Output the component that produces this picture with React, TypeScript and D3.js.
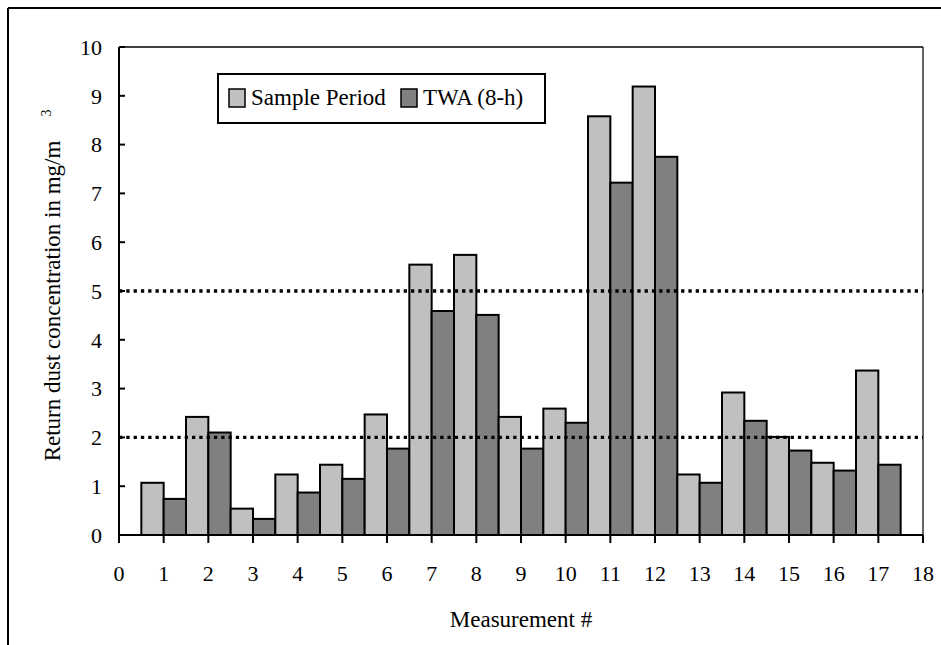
import React from "react";
import * as d3 from "d3";

const measurements = [1, 2, 3, 4, 5, 6, 7, 8, 9, 10, 11, 12, 13, 14, 15, 16, 17];
const samplePeriod = [1.07, 2.42, 0.54, 1.24, 1.44, 2.47, 5.54, 5.74, 2.42, 2.59, 8.58, 9.19, 1.24, 2.92, 2.01, 1.48, 3.37];
const twa8h = [0.74, 2.1, 0.33, 0.87, 1.15, 1.77, 4.59, 4.51, 1.77, 2.3, 7.22, 7.75, 1.07, 2.34, 1.73, 1.32, 1.44];
const xTicks = d3.range(0, 19);
const yTicks = d3.range(0, 11);
const limits = [5, 2];
const seriesNames = ["Sample Period", "TWA (8-h)"];
const colors = ["#c0c0c0", "#808080"];

const FONT = "Liberation Serif, Times New Roman, DejaVu Serif, serif";

export default function App() {
  const left = 119, right = 923, top = 47, bottom = 535;
  const x = d3.scaleLinear().domain([0, 18]).range([left, right]);
  const y = d3.scaleLinear().domain([0, 10]).range([bottom, top]);
  const ts = { fontFamily: FONT };

  return (
    <svg width={941} height={645} style={{ position: "absolute", left: 0, top: 0, background: "#fff", fontFamily: FONT }}>
      {/* outer frame */}
      <line x1={8} y1={8} x2={941} y2={8} stroke="#000" strokeWidth={2} />
      <line x1={8} y1={8} x2={8} y2={645} stroke="#000" strokeWidth={2} />

      {/* plot border top/right */}
      <line x1={left} y1={top} x2={right} y2={top} stroke="#000" strokeWidth={1.5} />
      <line x1={right} y1={top} x2={right} y2={bottom} stroke="#000" strokeWidth={1.2} />

      {/* bars */}
      {measurements.map((m, i) => (
        <g key={m}>
          <rect x={x(m - 0.5)} y={y(samplePeriod[i])} width={x(m) - x(m - 0.5)} height={y(0) - y(samplePeriod[i])}
            fill={colors[0]} stroke="#000" strokeWidth={2} />
          <rect x={x(m)} y={y(twa8h[i])} width={x(m + 0.5) - x(m)} height={y(0) - y(twa8h[i])}
            fill={colors[1]} stroke="#000" strokeWidth={2} />
        </g>
      ))}

      {/* limit lines */}
      {limits.map((v) => (
        <line key={v} x1={left} x2={right} y1={y(v)} y2={y(v)} stroke="#000" strokeWidth={3.3} strokeDasharray="3.3 4" />
      ))}

      {/* axes */}
      <line x1={left} y1={top} x2={left} y2={bottom} stroke="#000" strokeWidth={2} />
      <line x1={left} y1={bottom} x2={right} y2={bottom} stroke="#000" strokeWidth={2} />
      {yTicks.map((t) => (
        <g key={t}>
          <line x1={left} x2={left + 6} y1={y(t)} y2={y(t)} stroke="#000" strokeWidth={2} />
          <text style={ts} x={102} y={y(t)} dy="0.35em" textAnchor="end" fontSize={22}>{t}</text>
        </g>
      ))}
      {xTicks.map((t) => (
        <g key={t}>
          <line x1={x(t)} x2={x(t)} y1={bottom} y2={bottom + 8} stroke="#000" strokeWidth={2} />
          <text style={ts} x={x(t)} y={573} dy="0.35em" textAnchor="middle" fontSize={22}>{t}</text>
        </g>
      ))}

      {/* axis titles */}
      <text style={ts} x={(left + right) / 2} y={619} dy="0.35em" textAnchor="middle" fontSize={23}>Measurement #</text>
      <text style={ts} transform="translate(52,301) rotate(-90)" textAnchor="middle" dy="0.35em" fontSize={23}>
        Return dust concentration in mg/m
      </text>
      <text style={ts} transform="translate(46,113) rotate(-90)" textAnchor="middle" dy="0.35em" fontSize={14}>3</text>

      {/* legend */}
      <rect x={218} y={74} width={327} height={49} fill="#fff" stroke="#000" strokeWidth={2} />
      <rect x={229} y={89} width={16} height={18} fill={colors[0]} stroke="#000" strokeWidth={1.5} />
      <text style={ts} x={251} y={105} fontSize={23}>{seriesNames[0]}</text>
      <rect x={401} y={89} width={16} height={18} fill={colors[1]} stroke="#000" strokeWidth={1.5} />
      <text style={ts} x={423} y={105} fontSize={23}>{seriesNames[1]}</text>
    </svg>
  );
}
